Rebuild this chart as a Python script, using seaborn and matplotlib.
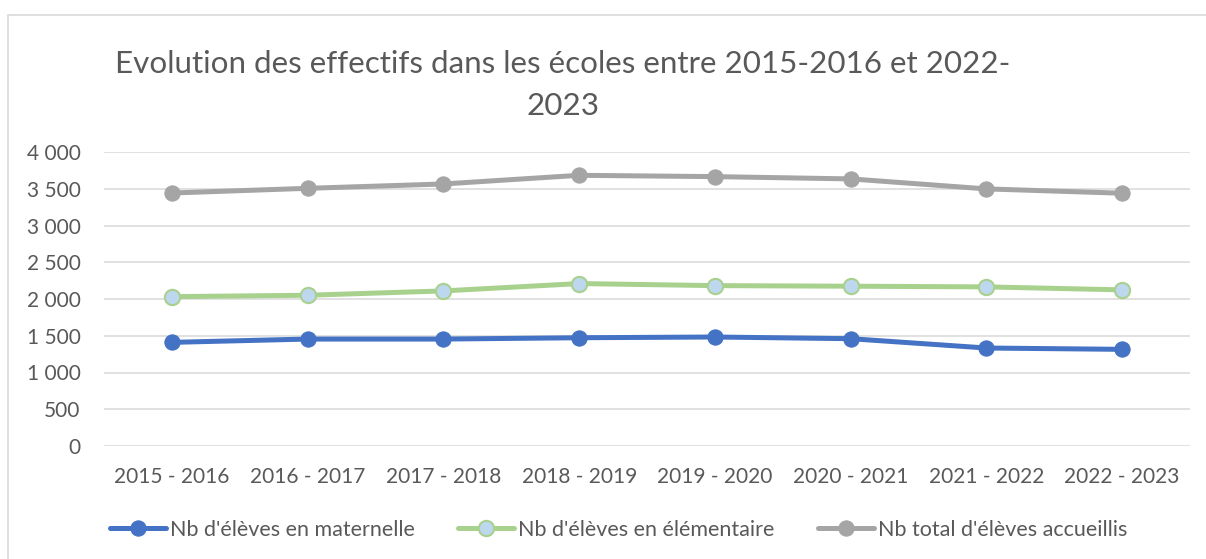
import matplotlib
matplotlib.use("Agg")
import matplotlib.pyplot as plt
from matplotlib.patches import Rectangle
from matplotlib.ticker import FuncFormatter
import seaborn as sns
import pandas as pd

annees = ["2015 - 2016", "2016 - 2017", "2017 - 2018", "2018 - 2019",
          "2019 - 2020", "2020 - 2021", "2021 - 2022", "2022 - 2023"]
maternelle = [1410, 1455, 1455, 1473, 1483, 1460, 1333, 1315]
elementaire = [2032, 2051, 2110, 2210, 2182, 2174, 2165, 2124]
total = [3442, 3506, 3565, 3683, 3665, 3634, 3498, 3439]

df = pd.DataFrame({"annee": annees, "maternelle": maternelle,
                   "elementaire": elementaire, "total": total})

sns.set_style("white")
plt.rcParams["font.family"] = ["Lato", "DejaVu Sans"]
gris_txt = "#595959"

fig = plt.figure(figsize=(12.06, 5.59), dpi=100)
ax = fig.add_axes([104 / 1206, 1 - 446 / 559, (1190 - 104) / 1206, (446 - 152) / 559])

# cadre du graphique
fig.patches.append(Rectangle((8 / 1206, -0.1), 1.2, 1 - 15 / 559 + 0.1,
                             transform=fig.transFigure, fill=False,
                             edgecolor="#D9D9D9", lw=1.2))

sns.lineplot(data=df, x="annee", y="maternelle", ax=ax, color="#4472C4", lw=3.6,
             marker="o", markersize=11, markeredgecolor="#4472C4",
             label="Nb d'élèves en maternelle")
sns.lineplot(data=df, x="annee", y="elementaire", ax=ax, color="#A9D18E", lw=3.6,
             marker="o", markersize=11, markerfacecolor="#BDD7EE",
             markeredgecolor="#A9D18E", markeredgewidth=1.5,
             label="Nb d'élèves en élémentaire")
sns.lineplot(data=df, x="annee", y="total", ax=ax, color="#A5A5A5", lw=3.6,
             marker="o", markersize=11, markeredgecolor="#A5A5A5",
             label="Nb total d'élèves accueillis")

ax.set_xlim(-0.5, 7.5)
ax.set_ylim(0, 4000)
ax.set_yticks(range(0, 4001, 500))
ax.yaxis.set_major_formatter(FuncFormatter(lambda v, p: f"{int(v):,}".replace(",", " ")))
ax.grid(axis="y", color="#D9D9D9", lw=1.1)
ax.set_axisbelow(True)
for s in ax.spines.values():
    s.set_visible(False)
ax.tick_params(axis="both", length=0, labelsize=15, colors=gris_txt)
ax.tick_params(axis="y", pad=17)
ax.tick_params(axis="x", pad=15)
ax.set_xlabel("")
ax.set_ylabel("")

handles, labels = ax.get_legend_handles_labels()
ax.get_legend().remove()
fig.legend(handles, labels, loc="center", bbox_to_anchor=(0.513, 1 - 530 / 559),
           ncol=3, frameon=False, fontsize=15.5, handlelength=2.6,
           handletextpad=0.2, columnspacing=2.0, labelcolor=gris_txt)

fig.text(563 / 1206, 1 - 85 / 559,
         "Evolution des effectifs dans les écoles entre 2015-2016 et 2022-\n2023",
         ha="center", va="center", fontsize=22.6, color=gris_txt, linespacing=1.6)

plt.savefig("out.png", dpi=100)
plt.close()
